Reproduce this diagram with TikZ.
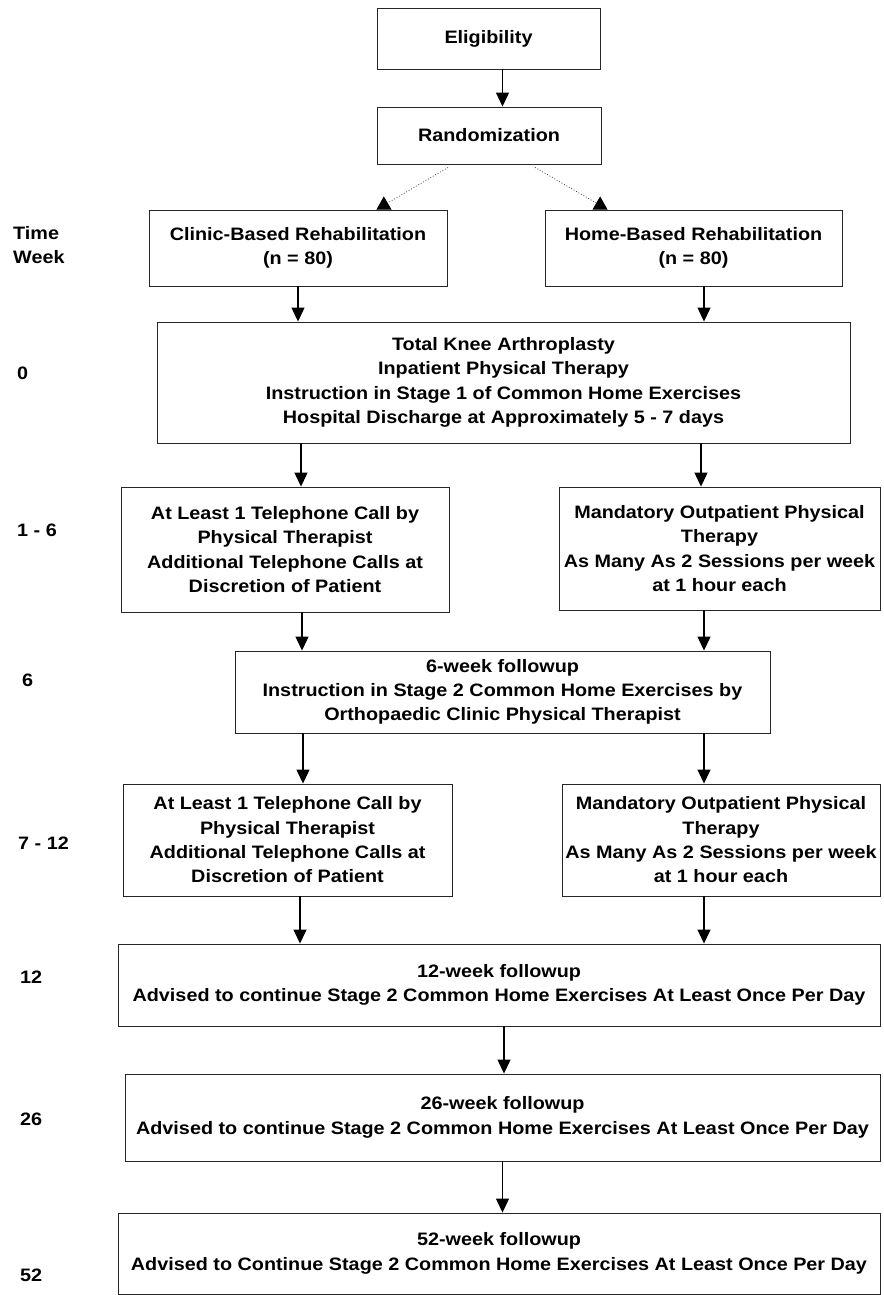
\documentclass[tikz,border=0pt]{standalone}
\usepackage{fontspec}
\setmainfont{Liberation Sans}[FakeStretch=1.1]
\usetikzlibrary{arrows.meta}
\newcommand\dfont{\fontsize{18}{24.3}\selectfont\bfseries}
\tikzset{
  box/.style={draw=black!85, line width=0.9pt, rectangle, align=center, inner sep=0pt, font=\dfont},
  arr/.style={line width=1.2pt, -{Triangle[length=14pt,width=13pt]}},
  diag/.style={black!75, line width=0.8pt, dotted, -{Triangle[length=13pt,width=15pt,color=black]}},
  lab/.style={anchor=base west, inner sep=0pt, font=\dfont},
}
\begin{document}
\begin{tikzpicture}[x=1pt,y=1pt]
\useasboundingbox (0,0) rectangle (883,-1295);
\fill[white] (0,0) rectangle (883,-1295);

% boxes
\node[box, minimum width=223, minimum height=61] (elig) at (488.5,-38.5) {Eligibility};
\node[box, minimum width=224, minimum height=57] (rand) at (489,-135.5) {Randomization};
\node[box, minimum width=298, minimum height=76] (clinic) at (298,-248) {Clinic-Based Rehabilitation\\(n = 80)};
\node[box, minimum width=297, minimum height=76] (home) at (693.5,-248) {Home-Based Rehabilitation\\(n = 80)};
\node[box, minimum width=693, minimum height=121] (tka) at (503.5,-382.5) {Total Knee Arthroplasty\\Inpatient Physical Therapy\\Instruction in Stage 1 of Common Home Exercises\\Hospital Discharge at Approximately 5 - 7 days};
\node[box, minimum width=328, minimum height=125] (l1) at (285,-549.5) {At Least 1 Telephone Call by\\Physical Therapist\\Additional Telephone Calls at\\Discretion of Patient};
\node[box, minimum width=321, minimum height=123] (r1) at (719.5,-548.5) {Mandatory Outpatient Physical\\Therapy\\As Many As 2 Sessions per week\\at 1 hour each};
\node[box, minimum width=535, minimum height=82] (w6) at (502.5,-692) {6-week followup\\Instruction in Stage 2 Common Home Exercises by\\Orthopaedic Clinic Physical Therapist};
\node[box, minimum width=329, minimum height=112] (l2) at (287.5,-840) {At Least 1 Telephone Call by\\Physical Therapist\\Additional Telephone Calls at\\Discretion of Patient};
\node[box, minimum width=318, minimum height=112] (r2) at (721,-840) {Mandatory Outpatient Physical\\Therapy\\As Many As 2 Sessions per week\\at 1 hour each};
\node[box, minimum width=762, minimum height=82] (w12) at (499,-985) {12-week followup\\Advised to continue Stage 2 Common Home Exercises At Least Once Per Day};
\node[box, minimum width=755, minimum height=87] (w26) at (502.5,-1117.5) {26-week followup\\Advised to continue Stage 2 Common Home Exercises At Least Once Per Day};
\node[box, minimum width=762, minimum height=81] (w52) at (499,-1253.5) {52-week followup\\Advised to Continue Stage 2 Common Home Exercises At Least Once Per Day};

% time labels
\node[lab] (ltime) at (13,-239.5) {Time};
\node[lab] (lweek) at (13,-263.5) {Week};
\node[lab] (l0) at (17,-379.5) {0};
\node[lab] (l16) at (17,-536.5) {1 - 6};
\node[lab] (l6) at (22,-686.5) {6};
\node[lab] (l712) at (18,-849.5) {7 - 12};
\node[lab] (l12) at (20,-983.5) {12};
\node[lab] (l26) at (20,-1125.5) {26};
\node[lab] (l52) at (20,-1281.5) {52};

% arrows
\draw[arr] ([xshift=14pt]elig.south) -- ([xshift=14pt]elig.south |- rand.north);
\draw[diag] ([xshift=-41pt,yshift=-3pt]rand.south) -- ([xshift=-71pt]clinic.north east);
\draw[diag] ([xshift=46pt,yshift=-3pt]rand.south) -- ([xshift=63pt]home.north west);
\draw[arr] (clinic.south) -- (clinic.south |- tka.north);
\draw[arr] ([xshift=10.5pt]home.south) -- ([xshift=10.5pt]home.south |- tka.north);
\draw[arr] ([xshift=16pt]l1.north |- tka.south) -- ([xshift=16pt]l1.north);
\draw[arr] ([xshift=-18.5pt]r1.north |- tka.south) -- ([xshift=-18.5pt]r1.north);
\draw[arr] ([xshift=17pt]l1.south) -- ([xshift=17pt]l1.south |- w6.north);
\draw[arr] ([xshift=-15.5pt]r1.south) -- ([xshift=-15.5pt]r1.south |- w6.north);
\draw[arr] ([xshift=15.5pt]l2.north |- w6.south) -- ([xshift=15.5pt]l2.north);
\draw[arr] ([xshift=-17pt]r2.north |- w6.south) -- ([xshift=-17pt]r2.north);
\draw[arr] ([xshift=12.5pt]l2.south) -- ([xshift=12.5pt]l2.south |- w12.north);
\draw[arr] ([xshift=-17pt]r2.south) -- ([xshift=-17pt]r2.south |- w12.north);
\draw[arr] ([xshift=5pt]w12.south) -- ([xshift=5pt]w12.south |- w26.north);
\draw[arr] (w26.south) -- (w26.south |- w52.north);
\end{tikzpicture}
\end{document}
